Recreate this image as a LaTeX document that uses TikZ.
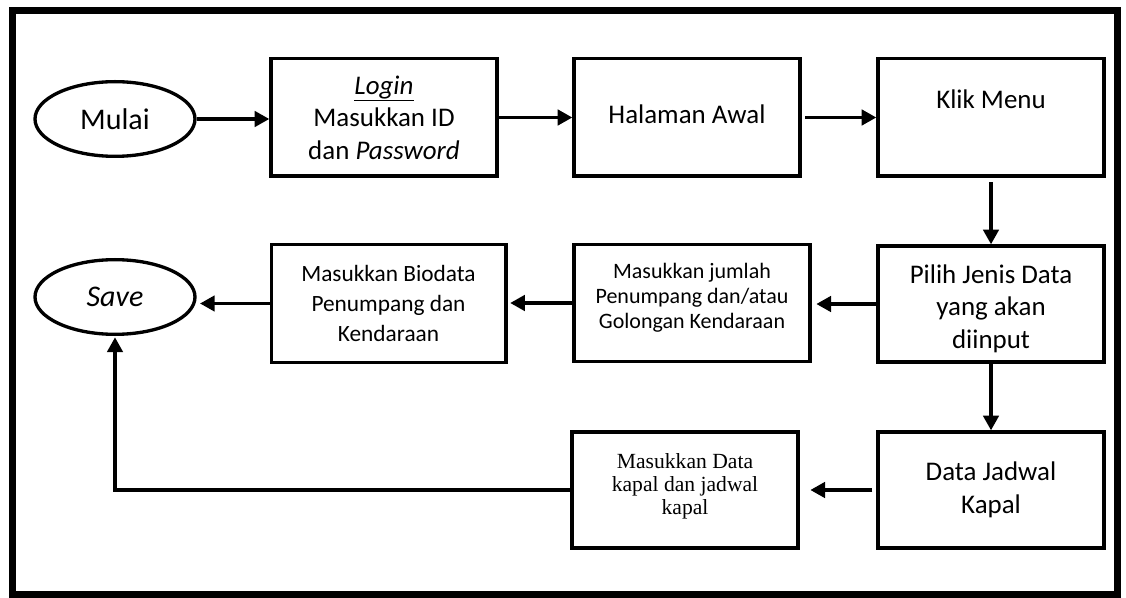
\documentclass[tikz,border=0pt]{standalone}
\usepackage{fontspec}
\setmainfont{Carlito}
\newfontfamily\tnr{Liberation Serif}
\usetikzlibrary{arrows.meta,shapes.geometric}
\begin{document}
\begin{tikzpicture}[x=0.75pt,y=-0.75pt,
  box/.style={draw,line width=2.5pt,rectangle,inner sep=0pt,align=center,minimum width=169.5pt,minimum height=88pt},
  oval/.style={draw,line width=2.5pt,ellipse,inner sep=0pt,minimum width=120pt,minimum height=56pt},
  arr/.style={line width=2.6pt,-{Triangle[length=11pt,width=11.5pt]}},
  thin arr/.style={line width=2.4pt,-{Triangle[length=11pt,width=11.5pt]}},
  big/.style={font=\fontsize{20.2}{24.3}\selectfont},
  huge/.style={font=\fontsize{22.5}{26}\selectfont},
  mid/.style={font=\fontsize{17.5}{22.5}\selectfont},
  small/.style={font=\fontsize{16.5}{19}\selectfont},
  serif/.style={font=\tnr\fontsize{16.2}{17.25}\selectfont},
  txt/.style={inner sep=0pt,align=center}]
\useasboundingbox (0,0) rectangle (1126,598);
\fill[white] (0,0) rectangle (1126,598);
\draw[line width=5.25pt] (12,11) rectangle (1117,594);

% top row
\node[oval,huge] (mulai) at (115,119) {Mulai};
\node[box,big] (login) at (384,117.5) {\underline{\textit{Login}}\\Masukkan ID\\dan \textit{Password}};
\node[box] (halaman) at (687,117.5) {};
\node[txt,big] (halamant) at ([yshift=2.5pt]halaman.center) {Halaman Awal};
\node[box] (klik) at (991,117.5) {};
\node[txt,big] (klikt) at ([yshift=14pt]klik.center) {Klik Menu};

% middle row
\node[oval,huge] (save) at (115,297) {\textit{Save}};
\node[box,mid,minimum width=176pt] (biodata) at (388.5,303.5) {Masukkan Biodata\\Penumpang dan\\Kendaraan};
\node[box,minimum width=177pt] (jumlah) at (692,303) {};
\node[txt,small] (jumlaht) at ([yshift=4pt]jumlah.center) {Masukkan jumlah\\Penumpang dan/atau\\Golongan Kendaraan};
\node[box,minimum height=87pt] (pilih) at (991,304) {};
\node[txt,big] (piliht) at ([yshift=-3.5pt]pilih.center) {Pilih Jenis Data\\yang akan\\diinput};

% bottom row
\node[box,big,minimum height=87pt] (jadwal) at (991,490) {Data Jadwal\\Kapal};
\node[box,minimum height=87pt] (masdata) at (685,490) {};
\node[txt,serif] (masdatat) at ([yshift=3pt]masdata.center) {Masukkan Data\\kapal dan jadwal\\kapal};

% connectors
\draw[arr] (mulai.east) -- (mulai.east -| login.west);
\draw[arr] (login.east) -- (halaman.west);
\draw[arr] ([xshift=2.5pt]halaman.east) -- (klik.west);
\draw[arr] ([yshift=-3.5pt]klik.south) -- (pilih.north);
\draw[arr] (pilih.west) -- ([xshift=3.5pt]pilih.west -| jumlah.east);
\draw[arr] (jumlah.west) -- ([xshift=2pt]jumlah.west -| biodata.east);
\draw[arr] (biodata.west) -- ([xshift=2.5pt]biodata.west -| save.east);
\draw[arr] (pilih.south) -- (jadwal.north);
\draw[arr] ([xshift=-3pt]jadwal.west) -- ([xshift=8pt]jadwal.west -| masdata.east);
\draw[thin arr] (masdata.west) -| ([yshift=-1pt]save.south);
\end{tikzpicture}
\end{document}
